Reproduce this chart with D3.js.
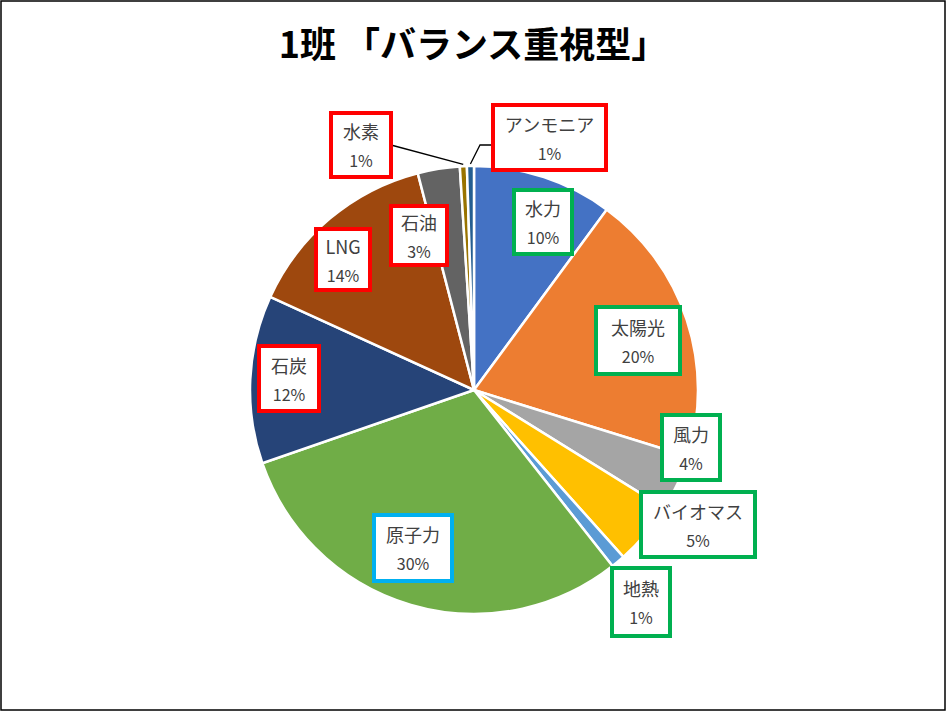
<!DOCTYPE html>
<html><head><meta charset="utf-8">
<script src="https://cdn.jsdelivr.net/npm/d3@7"></script>
<style>body{margin:0;background:#fff}</style></head>
<body><svg id="c" width="946" height="711"></svg>
<script>
const categories=["水力","太陽光","風力","バイオマス","地熱","原子力","石炭","LNG","石油","水素","アンモニア"];
const values=[10,19.5,4,4.5,1,30,12,14,3,0.5,0.5];
const labels=["10%","20%","4%","5%","1%","30%","12%","14%","3%","1%","1%"];
const colors=["#4472c4","#ed7d31","#a5a5a5","#ffc000","#5b9bd5","#70ad47","#264478","#9e480e","#636363","#997300","#255e91"];
const boxColors=["#00b050","#00b050","#00b050","#00b050","#00b050","#00b0f0","#ff0000","#ff0000","#ff0000","#ff0000","#ff0000"];
const boxes=[[514,190,58,64],[596,307,84,67],[662,415,58,65],[641,492,114,65],[612,568,58,68],[374,515,78,66],[259,346,60,65],[316,229,54,61],[391,206,56,59],[331,113,60,64],[493,105,113,65]];
const svg=d3.select("#c");
svg.append("rect").attr("x",1).attr("y",1).attr("width",944).attr("height",709).attr("fill","#fff").attr("stroke","#000").attr("stroke-width",1.5);
svg.append("text").attr("x",473).attr("y",58).attr("text-anchor","middle").attr("font-family","Noto Sans CJK JP").attr("font-weight","bold").attr("font-size",36).attr("fill","#000").text("1班 「バランス重視型」");
const cx=474,cy=390,R=224;
const pie=d3.pie().sort(null).value(d=>d)(values);
const arc=d3.arc().innerRadius(0).outerRadius(R);
const g=svg.append("g").attr("transform",`translate(${cx},${cy})`);
g.selectAll("path").data(pie).join("path").attr("d",arc).attr("fill",(d,i)=>colors[i]).attr("stroke","#fff").attr("stroke-width",2.5);
// leader lines
const outer=d3.arc().innerRadius(R+2).outerRadius(R+2);
const p9=outer.centroid(pie[9]), p10=outer.centroid(pie[10]);
svg.append("path").attr("d",`M391,145L${cx+p9[0]},${cy+p9[1]}`).attr("stroke","#000").attr("fill","none").attr("stroke-width",1.3);
svg.append("path").attr("d",`M493,145L480,145L${cx+p10[0]},${cy+p10[1]}`).attr("stroke","#000").attr("fill","none").attr("stroke-width",1.3);
const lb=svg.selectAll("g.lb").data(categories).join("g").attr("class","lb");
lb.append("rect").attr("x",(d,i)=>boxes[i][0]).attr("y",(d,i)=>boxes[i][1]).attr("width",(d,i)=>boxes[i][2]).attr("height",(d,i)=>boxes[i][3]).attr("fill","#fff").attr("stroke",(d,i)=>boxColors[i]).attr("stroke-width",4);
lb.append("text").attr("x",(d,i)=>boxes[i][0]+boxes[i][2]/2).attr("y",(d,i)=>boxes[i][1]+boxes[i][3]/2-6).attr("text-anchor","middle").attr("font-family","Noto Sans CJK JP").attr("font-size",18).attr("fill","#404040").text(d=>d);
lb.append("text").attr("x",(d,i)=>boxes[i][0]+boxes[i][2]/2).attr("y",(d,i)=>boxes[i][1]+boxes[i][3]/2+22).attr("text-anchor","middle").attr("font-family","Noto Sans CJK JP").attr("font-size",16).attr("fill","#404040").text((d,i)=>labels[i]);
</script></body></html>
